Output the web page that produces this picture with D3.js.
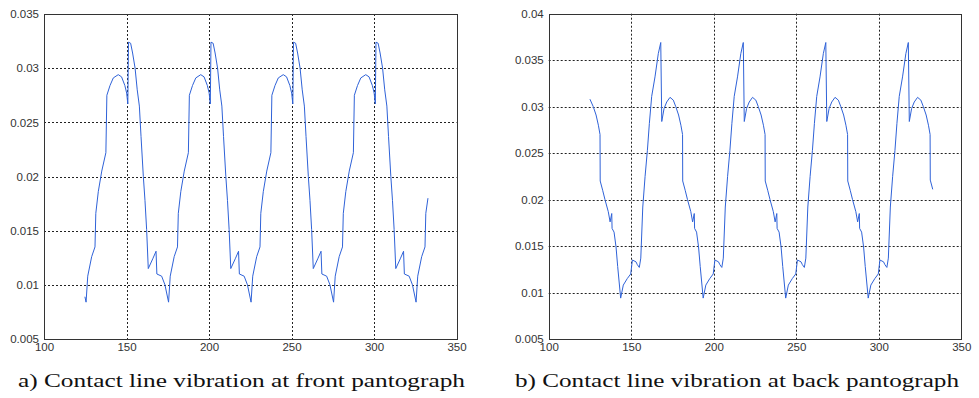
<!DOCTYPE html>
<html>
<head>
<meta charset="utf-8">
<script src="https://cdn.jsdelivr.net/npm/d3@7/dist/d3.min.js"></script>
<style>
  html, body { margin: 0; padding: 0; background: #fff; }
  svg { display: block; }
</style>
</head>
<body>
<svg id="chart" width="979" height="398"></svg>
<script>
// ---------------- DATA ----------------
const xTicks = [100, 150, 200, 250, 300, 350];
const xTickLabels = ["100", "150", "200", "250", "300", "350"];

const leftYTicks = [0.005, 0.01, 0.015, 0.02, 0.025, 0.03, 0.035];
const leftYTickLabels = ["0.005", "0.01", "0.015", "0.02", "0.025", "0.03", "0.035"];
const rightYTicks = [0.005, 0.01, 0.015, 0.02, 0.025, 0.03, 0.035, 0.04];
const rightYTickLabels = ["0.005", "0.01", "0.015", "0.02", "0.025", "0.03", "0.035", "0.04"];

const captions = ["a) Contact line vibration at front pantograph",
                  "b) Contact line vibration at back pantograph"];

// front pantograph (left)
const frontX = [
  124.8, 125.5, 126.5, 128.9, 130.9, 131.4, 132.9, 135.0, 137.5, 138.1, 140.0, 142.0, 145.0, 147.0, 149.0, 150.1, 150.8, 151.2, 152.5, 153.7, 155.2, 156.5, 157.8, 158.8, 160.2, 161.2, 162.2, 163.2, 165.9, 167.9, 168.4, 171.3, 173.3,
  175.5, 176.5, 178.9, 180.9, 181.4, 182.9, 185.0, 187.5, 188.1, 190.0, 192.0, 195.0, 197.0, 199.0, 200.1, 200.8, 201.2, 202.5, 203.7, 205.2, 206.5, 207.8, 208.8, 210.2, 211.2, 212.2, 213.2, 215.9, 217.9, 218.4, 221.3, 223.3,
  225.5, 226.5, 228.9, 230.9, 231.4, 232.9, 235.0, 237.5, 238.1, 240.0, 242.0, 245.0, 247.0, 249.0, 250.1, 250.8, 251.2, 252.5, 253.7, 255.2, 256.5, 257.8, 258.8, 260.2, 261.2, 262.2, 263.2, 265.9, 267.9, 268.4, 271.3, 273.3,
  275.5, 276.5, 278.9, 280.9, 281.4, 282.9, 285.0, 287.5, 288.1, 290.0, 292.0, 295.0, 297.0, 299.0, 300.1, 300.8, 301.2, 302.5, 303.7, 305.2, 306.5, 307.8, 308.8, 310.2, 311.2, 312.2, 313.2, 315.9, 317.9, 318.4, 321.3, 323.3,
  325.5, 326.5, 328.9, 330.9, 331.4, 332.7
];
const frontY = [
  0.0089, 0.0084, 0.0108, 0.0126, 0.0135, 0.0166, 0.0186, 0.0205, 0.0222, 0.0275, 0.0284, 0.0291, 0.0294, 0.0292, 0.0284, 0.0277, 0.0267, 0.0324, 0.0323, 0.0314, 0.0300, 0.0280, 0.0265, 0.0237, 0.0200, 0.0178, 0.0151, 0.0115, 0.0124, 0.0131, 0.0110, 0.0108, 0.0100,
  0.0084, 0.0108, 0.0126, 0.0135, 0.0166, 0.0186, 0.0205, 0.0222, 0.0275, 0.0284, 0.0291, 0.0294, 0.0292, 0.0284, 0.0277, 0.0267, 0.0324, 0.0323, 0.0314, 0.0300, 0.0280, 0.0265, 0.0237, 0.0200, 0.0178, 0.0151, 0.0115, 0.0124, 0.0131, 0.0110, 0.0108, 0.0100,
  0.0084, 0.0108, 0.0126, 0.0135, 0.0166, 0.0186, 0.0205, 0.0222, 0.0275, 0.0284, 0.0291, 0.0294, 0.0292, 0.0284, 0.0277, 0.0267, 0.0324, 0.0323, 0.0314, 0.0300, 0.0280, 0.0265, 0.0237, 0.0200, 0.0178, 0.0151, 0.0115, 0.0124, 0.0131, 0.0110, 0.0108, 0.0100,
  0.0084, 0.0108, 0.0126, 0.0135, 0.0166, 0.0186, 0.0205, 0.0222, 0.0275, 0.0284, 0.0291, 0.0294, 0.0292, 0.0284, 0.0277, 0.0267, 0.0324, 0.0323, 0.0314, 0.0300, 0.0280, 0.0265, 0.0237, 0.0200, 0.0178, 0.0151, 0.0115, 0.0124, 0.0131, 0.0110, 0.0108, 0.0100,
  0.0084, 0.0108, 0.0126, 0.0135, 0.0166, 0.0180
];

// back pantograph (right)
const backX = [
  125.0, 127.0, 128.7, 130.1, 131.1, 131.2, 132.7, 134.1, 136.1, 137.2, 138.2, 138.4, 139.6, 140.8, 141.8, 143.6, 145.2, 147.6, 149.7, 150.7, 152.9, 153.7, 154.9, 155.8, 157.0, 158.4, 159.8, 161.0, 162.4, 164.4, 166.4, 167.9, 168.5, 169.9, 171.5, 173.5,
  175.5, 177.0, 178.7, 180.1, 181.1, 181.2, 182.7, 184.1, 186.1, 187.2, 188.2, 188.4, 189.6, 190.8, 191.8, 193.6, 195.2, 197.6, 199.7, 200.7, 202.9, 203.7, 204.9, 205.8, 207.0, 208.4, 209.8, 211.0, 212.4, 214.4, 216.4, 217.9, 218.5, 219.9, 221.5, 223.5,
  225.5, 227.0, 228.7, 230.1, 231.1, 231.2, 232.7, 234.1, 236.1, 237.2, 238.2, 238.4, 239.6, 240.8, 241.8, 243.6, 245.2, 247.6, 249.7, 250.7, 252.9, 253.7, 254.9, 255.8, 257.0, 258.4, 259.8, 261.0, 262.4, 264.4, 266.4, 267.9, 268.5, 269.9, 271.5, 273.5,
  275.5, 277.0, 278.7, 280.1, 281.1, 281.2, 282.7, 284.1, 286.1, 287.2, 288.2, 288.4, 289.6, 290.8, 291.8, 293.6, 295.2, 297.6, 299.7, 300.7, 302.9, 303.7, 304.9, 305.8, 307.0, 308.4, 309.8, 311.0, 312.4, 314.4, 316.4, 317.9, 318.5, 319.9, 321.5, 323.5,
  325.5, 327.0, 328.7, 330.1, 331.1, 331.2, 332.7
];
const backY = [
  0.0308, 0.0300, 0.0291, 0.0280, 0.0270, 0.0220, 0.0210, 0.0200, 0.0187, 0.0176, 0.0185, 0.0169, 0.0165, 0.0149, 0.0128, 0.0094, 0.0108, 0.0115, 0.0120, 0.0135, 0.0133, 0.0130, 0.0127, 0.0137, 0.0192, 0.0225, 0.0253, 0.0282, 0.0311, 0.0332, 0.0357, 0.0369, 0.0284, 0.0298, 0.0305, 0.0310,
  0.0307, 0.0300, 0.0291, 0.0280, 0.0270, 0.0220, 0.0210, 0.0200, 0.0187, 0.0176, 0.0185, 0.0169, 0.0165, 0.0149, 0.0128, 0.0094, 0.0108, 0.0115, 0.0120, 0.0135, 0.0133, 0.0130, 0.0127, 0.0137, 0.0192, 0.0225, 0.0253, 0.0282, 0.0311, 0.0332, 0.0357, 0.0369, 0.0284, 0.0298, 0.0305, 0.0310,
  0.0307, 0.0300, 0.0291, 0.0280, 0.0270, 0.0220, 0.0210, 0.0200, 0.0187, 0.0176, 0.0185, 0.0169, 0.0165, 0.0149, 0.0128, 0.0094, 0.0108, 0.0115, 0.0120, 0.0135, 0.0133, 0.0130, 0.0127, 0.0137, 0.0192, 0.0225, 0.0253, 0.0282, 0.0311, 0.0332, 0.0357, 0.0369, 0.0284, 0.0298, 0.0305, 0.0310,
  0.0307, 0.0300, 0.0291, 0.0280, 0.0270, 0.0220, 0.0210, 0.0200, 0.0187, 0.0176, 0.0185, 0.0169, 0.0165, 0.0149, 0.0128, 0.0094, 0.0108, 0.0115, 0.0120, 0.0135, 0.0133, 0.0130, 0.0127, 0.0137, 0.0192, 0.0225, 0.0253, 0.0282, 0.0311, 0.0332, 0.0357, 0.0369, 0.0284, 0.0298, 0.0305, 0.0310,
  0.0307, 0.0300, 0.0291, 0.0280, 0.0270, 0.0221, 0.0211
];

// ---------------- DRAW ----------------
const svg = d3.select("#chart");
const LINE_COLOR = "#2f62d8";
const TEXT_COLOR = "#333";

const panels = [
  { x0: 44, x1: 456.5, y0: 14, y1: 339, yDomain: [0.005, 0.035],
    yTicks: leftYTicks, yLabels: leftYTickLabels, xs: frontX, ys: frontY,
    caption: captions[0], capX: 18, capW: 447 },
  { x0: 548.7, x1: 961.3, y0: 13.7, y1: 339, yDomain: [0.005, 0.04],
    yTicks: rightYTicks, yLabels: rightYTickLabels, xs: backX, ys: backY,
    caption: captions[1], capX: 515, capW: 444 }
];

panels.forEach(p => {
  const x = d3.scaleLinear().domain([100, 350]).range([p.x0, p.x1]);
  const y = d3.scaleLinear().domain(p.yDomain).range([p.y1, p.y0]);
  const g = svg.append("g");

  // grid
  g.selectAll("line.vgrid").data(xTicks.slice(1, -1)).enter().append("line")
    .attr("x1", d => Math.round(x(d)) + 0.5).attr("x2", d => Math.round(x(d)) + 0.5)
    .attr("y1", p.y0).attr("y2", p.y1)
    .attr("stroke", "#222").attr("stroke-width", 1).attr("stroke-dasharray", "2,2");
  g.selectAll("line.hgrid").data(p.yTicks.slice(1, -1)).enter().append("line")
    .attr("x1", p.x0).attr("x2", p.x1)
    .attr("y1", d => Math.round(y(d)) + 0.5).attr("y2", d => Math.round(y(d)) + 0.5)
    .attr("stroke", "#222").attr("stroke-width", 1).attr("stroke-dasharray", "2,2");

  // data line
  const pts = p.xs.map((v, i) => [v, p.ys[i]]);
  g.append("path").datum(pts)
    .attr("fill", "none").attr("stroke", LINE_COLOR).attr("stroke-width", 1)
    .attr("stroke-linejoin", "round")
    .attr("d", d3.line().x(d => x(d[0])).y(d => y(d[1])));

  // box
  g.append("rect")
    .attr("x", Math.round(p.x0) + 0.5).attr("y", Math.round(p.y0) + 0.5)
    .attr("width", Math.round(p.x1) - Math.round(p.x0))
    .attr("height", Math.round(p.y1) - Math.round(p.y0))
    .attr("fill", "none").attr("stroke", "#333").attr("stroke-width", 1);

  // y axis labels
  const yAxis = d3.axisLeft(y).tickValues(p.yTicks)
    .tickFormat((d, i) => p.yLabels[i]).tickSize(0).tickPadding(5);
  const ya = g.append("g").attr("transform", `translate(${p.x0},0)`).call(yAxis);
  ya.select(".domain").remove();
  ya.selectAll("text").attr("font-family", "Liberation Sans, Arial, sans-serif")
    .attr("font-size", 11.5).attr("fill", TEXT_COLOR);

  // x axis labels
  const xAxis = d3.axisBottom(x).tickValues(xTicks)
    .tickFormat((d, i) => xTickLabels[i]).tickSize(0).tickPadding(4);
  const xa = g.append("g").attr("transform", `translate(0,${p.y1})`).call(xAxis);
  xa.select(".domain").remove();
  xa.selectAll("text").attr("font-family", "Liberation Sans, Arial, sans-serif")
    .attr("font-size", 11.5).attr("fill", TEXT_COLOR);

  // caption
  g.append("text").attr("x", p.capX).attr("y", 387)
    .attr("font-family", "Liberation Serif, Times New Roman, serif")
    .attr("font-size", 19).attr("fill", "#111")
    .attr("textLength", p.capW).attr("lengthAdjust", "spacingAndGlyphs")
    .text(p.caption);
});
</script>
</body>
</html>
